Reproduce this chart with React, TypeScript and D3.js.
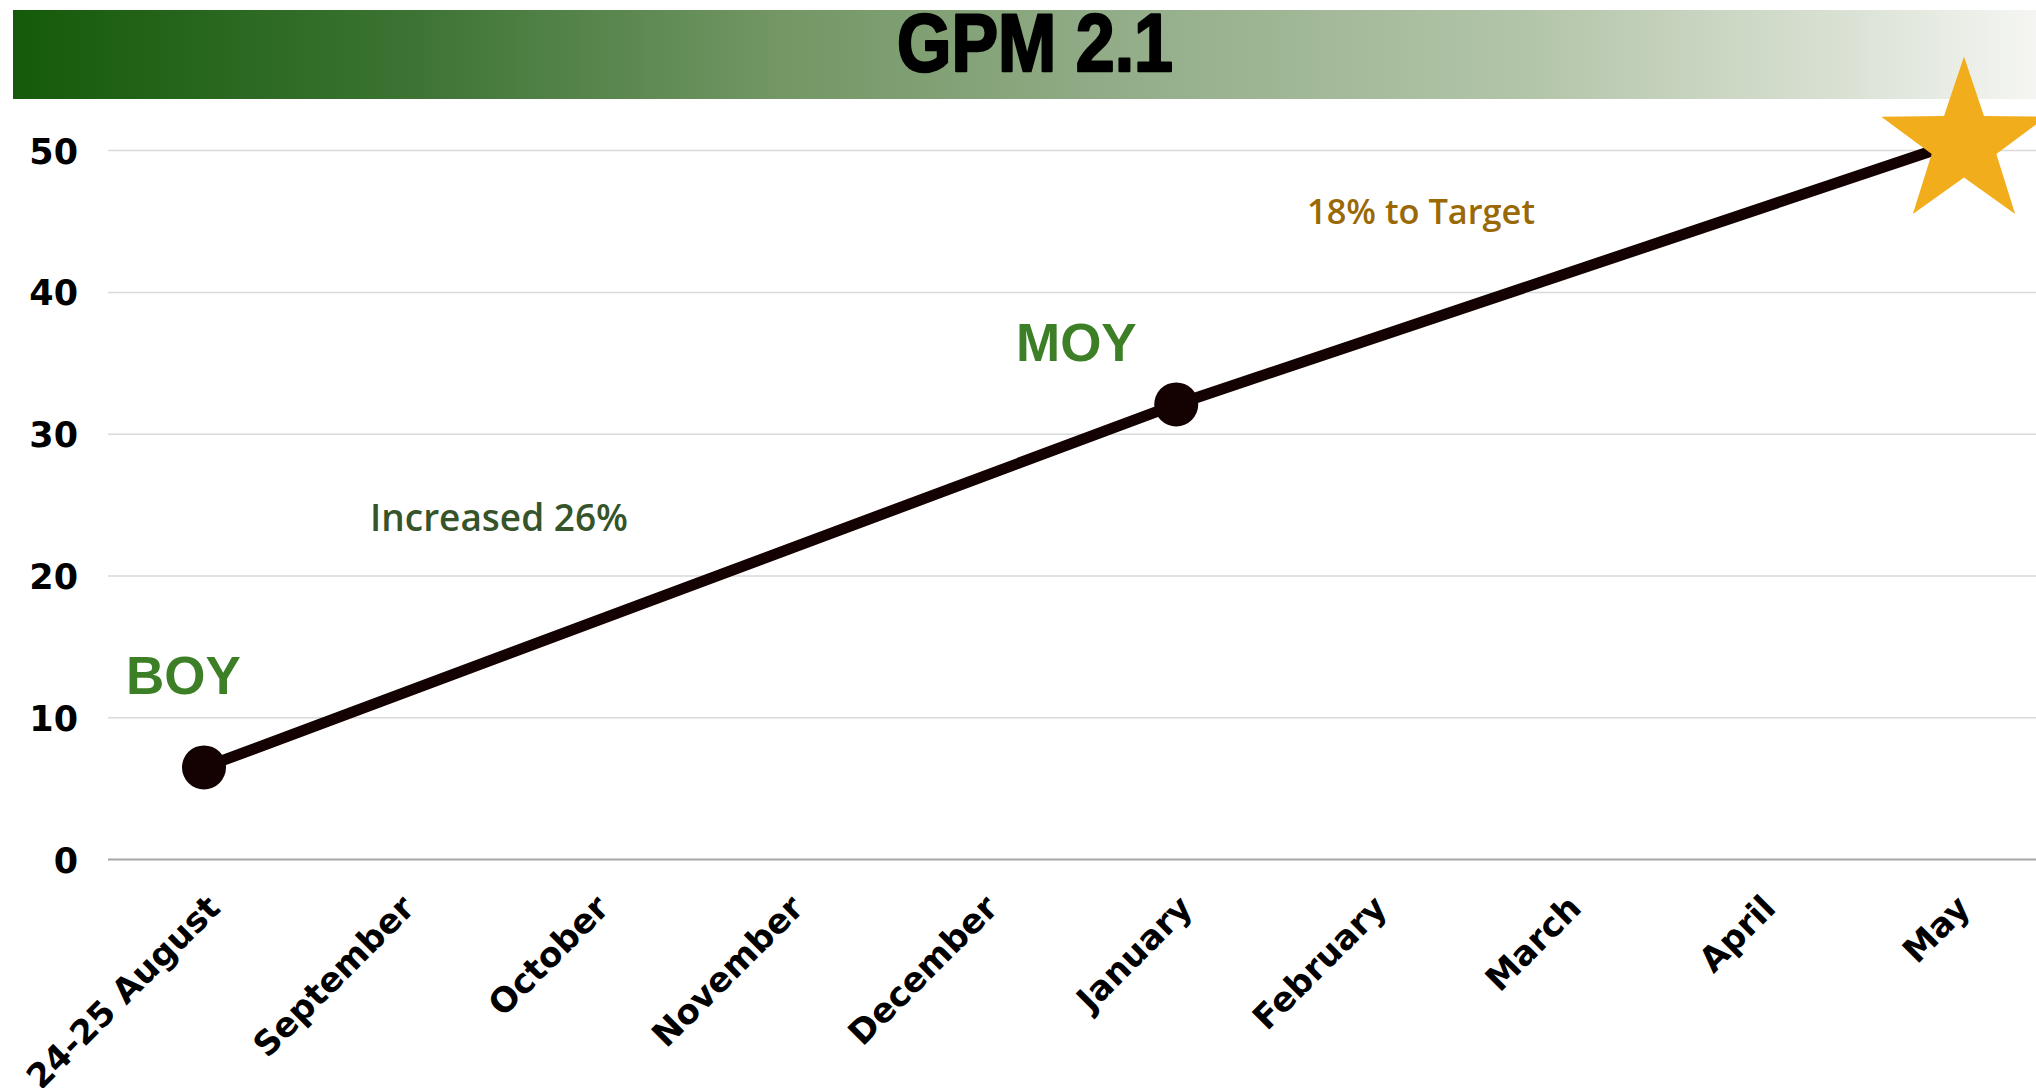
import React from "react";
import * as d3 from "d3";

const categories = ["24-25 August", "September", "October", "November", "December", "January", "February", "March", "April", "May"];
const pointCats = ["24-25 August", "January", "May"];
const pointValues = [6.5, 32.1, 50.5];
const yTicks = [0, 10, 20, 30, 40, 50];
const title = "GPM 2.1";

const W = 2036;
const H = 1088;

export default function App() {
  const x = d3.scalePoint<string>().domain(categories).range([204, 1954]);
  const y = d3.scaleLinear().domain([0, 50]).range([859.6, 150.6]);
  const line = d3.line<number>()
    .x((_, i) => x(pointCats[i]) as number)
    .y((d) => y(d));

  const starPath = (cx: number, cy: number, R: number, r: number) => {
    const pts: string[] = [];
    for (let i = 0; i < 10; i++) {
      const rad = i % 2 === 0 ? R : r;
      const a = -Math.PI / 2 + (i * Math.PI) / 5;
      pts.push(`${cx + rad * Math.cos(a)},${cy + rad * Math.sin(a)}`);
    }
    return "M" + pts.join("L") + "Z";
  };

  const lastCat = pointCats[pointCats.length - 1];
  const lastVal = pointValues[pointValues.length - 1];

  return (
    <svg width={W} height={H} style={{ position: "absolute", left: 0, top: 0, background: "#fff" }}>
      <defs>
        <linearGradient id="banner" x1="0" x2="1" y1="0" y2="0">
          <stop offset="0" stopColor="#155a0a" />
          <stop offset="0.2" stopColor="#3d7434" />
          <stop offset="0.38" stopColor="#739765" />
          <stop offset="0.55" stopColor="#93ad89" />
          <stop offset="0.75" stopColor="#b3c5a9" />
          <stop offset="0.9" stopColor="#d8e0d2" />
          <stop offset="1" stopColor="#f5f6f3" />
        </linearGradient>
      </defs>
      <rect x={13} y={10} width={W - 13} height={89} fill="url(#banner)" />
      <text
        x={1035}
        y={71}
        textAnchor="middle"
        fontFamily="'Liberation Sans Narrow', 'Liberation Sans', sans-serif"
        fontWeight="bold"
        fontSize={82}
        textLength={276}
        lengthAdjust="spacingAndGlyphs"
        fill="#000"
        stroke="#000"
        strokeWidth={2.5}
        strokeLinejoin="round"
      >
        {title}
      </text>

      {yTicks.map((t) => (
        <g key={t}>
          <line
            x1={108}
            x2={W}
            y1={y(t)}
            y2={y(t)}
            stroke={t === 0 ? "#a6a6a6" : "#d9d9d9"}
            strokeWidth={t === 0 ? 2 : 1.5}
          />
          <text
            x={78}
            y={y(t)}
            dy="0.37em"
            textAnchor="end"
            fontFamily="'DejaVu Sans', sans-serif"
            fontWeight="bold"
            fontSize={35}
            fill="#000"
          >
            {t}
          </text>
        </g>
      ))}

      {categories.map((c) => (
        <text
          key={c}
          transform={`translate(${(x(c) as number) + 18},${910}) rotate(-45)`}
          textAnchor="end"
          fontFamily="'DejaVu Sans', sans-serif"
          fontWeight="bold"
          fontSize={34}
          fill="#000"
        >
          {c}
        </text>
      ))}

      <path d={line(pointValues) || ""} fill="none" stroke="#140202" strokeWidth={11} />
      {pointValues.slice(0, -1).map((v, i) => (
        <circle key={i} cx={x(pointCats[i]) as number} cy={y(v)} r={22} fill="#140202" />
      ))}
      <path d={starPath((x(lastCat) as number) + 10, y(lastVal), 87, 34)} fill="#f2ad1c" />

      <text
        x={126}
        y={694}
        fontFamily="'Liberation Sans', Arial, sans-serif"
        fontWeight="bold"
        fontSize={53}
        fill="#3d7f26"
      >
        BOY
      </text>
      <text
        x={1016}
        y={361}
        fontFamily="'Liberation Sans', Arial, sans-serif"
        fontWeight="bold"
        fontSize={53}
        fill="#3d7f26"
      >
        MOY
      </text>
      <text
        x={370}
        y={531}
        fontFamily="'Open Sans', sans-serif"
        fontWeight={600}
        fontSize={38}
        textLength={258}
        lengthAdjust="spacingAndGlyphs"
        fill="#36542a"
      >
        Increased 26%
      </text>
      <text
        x={1307}
        y={224}
        fontFamily="'Open Sans', sans-serif"
        fontWeight={600}
        fontSize={34}
        textLength={228}
        lengthAdjust="spacingAndGlyphs"
        fill="#9a6905"
      >
        18% to Target
      </text>
    </svg>
  );
}
